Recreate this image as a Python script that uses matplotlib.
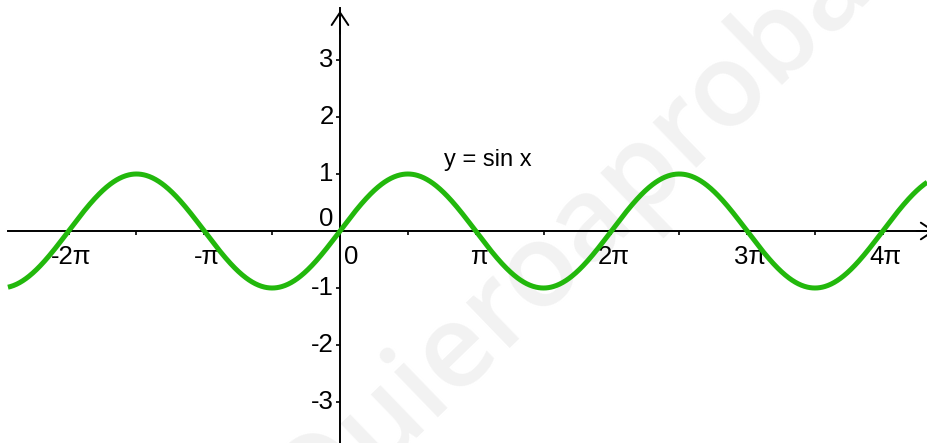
import numpy as np
import matplotlib
matplotlib.use("Agg")
import matplotlib.pyplot as plt

# --- DATA ---
X_START = -2.447 * np.pi      # where the drawn curve and x axis begin
X_END = 4.40 * np.pi
X_TICKS = np.arange(-2, 4.01, 0.5) * np.pi
X_LABEL_POS = [-2 * np.pi, -np.pi, np.pi, 2 * np.pi, 3 * np.pi, 4 * np.pi]
X_LABELS = ["-2π", "-π", "π", "2π", "3π", "4π"]
Y_TICKS = [-3, -2, -1, 1, 2, 3]
Y_LABELS = ["-3", "-2", "-1", "1", "2", "3"]
TITLE = "y = sin x"
WATERMARK = "Quieroaprobar"

# pixel layout of the reference (927x443)
W, H = 927, 443
X0_PX, PI_PX = 340, 135.7
Y0_PX, UNIT_PX = 231, 57
XLIM = (-X0_PX / PI_PX * np.pi, (W - X0_PX) / PI_PX * np.pi)
YLIM = (-(H - Y0_PX) / UNIT_PX, Y0_PX / UNIT_PX)
Y_ARROW_TIP = (Y0_PX - 8) / UNIT_PX

GREEN = "#22b80c"
FONT = ["Liberation Sans Narrow", "Liberation Sans", "DejaVu Sans"]

fig = plt.figure(figsize=(W / 100, H / 100), dpi=100)
ax = fig.add_axes([0, 0, 1, 1])
ax.set_xlim(*XLIM)
ax.set_ylim(*YLIM)

# watermark, behind everything
ax.text(590 / W, 1 - 222 / H, WATERMARK, transform=ax.transAxes, rotation=44,
        ha="center", va="center", fontsize=84, color="#f2f2f2",
        fontweight="semibold", family=["Open Sans", "DejaVu Sans"],
        zorder=0, clip_on=True)

# axes through the origin
for s in ["top", "right"]:
    ax.spines[s].set_visible(False)
ax.spines["left"].set_position(("data", 0))
ax.spines["bottom"].set_position(("data", 0))
ax.spines["left"].set_bounds(YLIM[0], Y_ARROW_TIP)
ax.spines["bottom"].set_bounds(X_START, XLIM[1])
for s in ["left", "bottom"]:
    ax.spines[s].set_linewidth(1.4)
    ax.spines[s].set_color("black")
    ax.spines[s].set_zorder(2)

ax.annotate("", xy=(0, Y_ARROW_TIP), xytext=(0, Y_ARROW_TIP - 0.5),
            arrowprops=dict(arrowstyle="->,head_length=0.45,head_width=0.3",
                            lw=1.4, color="black", mutation_scale=20))
ax.annotate("", xy=(XLIM[1] + 0.08 * np.pi, 0), xytext=(XLIM[1] - 0.3, 0),
            arrowprops=dict(arrowstyle="->,head_length=0.45,head_width=0.3",
                            lw=1.4, color="black", mutation_scale=20),
            annotation_clip=False)

ax.set_xticks(X_TICKS)
ax.set_xticklabels([])
ax.set_yticks(Y_TICKS)
ax.set_yticklabels([])
ax.tick_params(axis="both", direction="out", length=3, width=1.2, color="black")

# tick labels
for xv, lab in zip(X_LABEL_POS, X_LABELS):
    ax.annotate(lab, xy=(xv, 0), xytext=(2, -19), textcoords="offset points",
                ha="center", va="center", fontsize=18.5, family=FONT)
for yv, lab in zip(Y_TICKS, Y_LABELS):
    ax.annotate(lab, xy=(0, yv), xytext=(-4.5, 0), textcoords="offset points",
                ha="right", va="center", fontsize=18.5, family=FONT)
ax.annotate("0", xy=(0, 0), xytext=(-10, 8.5), textcoords="offset points",
            ha="center", va="center", fontsize=18.5, family=FONT)
ax.annotate("0", xy=(0, 0), xytext=(8, -19), textcoords="offset points",
            ha="center", va="center", fontsize=18.5, family=FONT)

# curve
x = np.linspace(X_START, X_END, 1500)
ax.plot(x, np.sin(x), color=GREEN, lw=3.6, solid_capstyle="butt", zorder=3)

ax.text(488 / W, 1 - 160 / H, TITLE, transform=ax.transAxes, ha="center",
        va="center", fontsize=17, family=FONT)

ax.set_facecolor("none")
fig.savefig("out.png", dpi=100, facecolor="white")
